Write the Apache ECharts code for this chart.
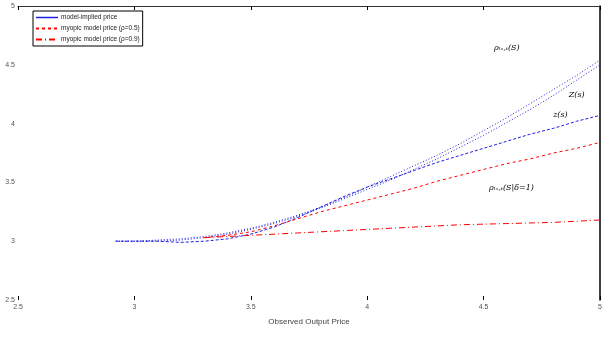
<!DOCTYPE html>
<html>
<head>
<meta charset="utf-8">
<script src="https://cdn.jsdelivr.net/npm/echarts@6/dist/echarts.min.js"></script>
<style>html,body{margin:0;padding:0;background:#fff}#main{width:607px;height:340px}</style>
</head>
<body>
<div id="main"></div>
<script>
// observed output price (x)
var priceX = [2.92, 3.0, 3.1, 3.2, 3.3, 3.4, 3.5, 3.6, 3.7, 3.8, 3.9, 4.0, 4.1, 4.2, 4.3, 4.4, 4.5, 4.6, 4.7, 4.8, 4.9, 5.0];
// blue curves
var upperA = [3.00, 3.00, 3.01, 3.02, 3.04, 3.07, 3.11, 3.16, 3.22, 3.29, 3.37, 3.46, 3.55, 3.64, 3.73, 3.83, 3.94, 4.05, 4.17, 4.29, 4.41, 4.54];
var upperB = [3.00, 3.00, 3.00, 3.01, 3.03, 3.06, 3.10, 3.15, 3.21, 3.28, 3.36, 3.44, 3.52, 3.61, 3.70, 3.80, 3.90, 4.01, 4.12, 4.24, 4.37, 4.50];
var lowerC = [3.00, 3.00, 3.00, 2.99, 3.00, 3.02, 3.06, 3.12, 3.20, 3.29, 3.38, 3.46, 3.53, 3.60, 3.67, 3.73, 3.79, 3.85, 3.91, 3.96, 4.02, 4.07];
// red curves (start at 3.3)
var redX = [3.3, 3.4, 3.5, 3.6, 3.7, 3.8, 3.9, 4.0, 4.1, 4.2, 4.3, 4.4, 4.5, 4.6, 4.7, 4.8, 4.9, 5.0];
var redD = [3.03, 3.05, 3.08, 3.13, 3.19, 3.25, 3.30, 3.35, 3.40, 3.45, 3.51, 3.56, 3.61, 3.66, 3.70, 3.75, 3.79, 3.84];
var redE = [3.03, 3.04, 3.05, 3.06, 3.07, 3.08, 3.09, 3.10, 3.11, 3.12, 3.13, 3.14, 3.145, 3.15, 3.155, 3.16, 3.17, 3.18];
var ticks = [2.5, 3, 3.5, 4, 4.5, 5];
var legendNames = ['model-implied price', 'myopic model price (\u03c1=0.5)', 'myopic model price (\u03c1=0.9)'];

function pairs(xs, ys) { return xs.map(function (x, i) { return [x, ys[i]]; }); }
function note(x, y, text) {
    return { data: [{ coord: [x, y] }], symbolSize: 0, silent: true,
        label: { show: true, position: 'inside', formatter: text, color: '#000', fontSize: 8, fontStyle: 'italic', fontFamily: 'DejaVu Serif' } };
}

var axisBase = { type: 'value', min: 2.5, max: 5, interval: 0.5, splitLine: { show: false } };

option = {
    backgroundColor: '#fff',
    animation: false,
    grid: { left: 18, right: 7, top: 6, bottom: 40, outerBoundsMode: 'none', containLabel: false },
    legend: {
        left: 33, top: 11, orient: 'vertical', itemGap: 4, itemWidth: 22, itemHeight: 8,
        padding: [3, 3, 3, 2], borderColor: '#000', borderWidth: 1, backgroundColor: '#fff',
        itemStyle: { opacity: 0 },
        textStyle: { fontSize: 6.5, color: '#222', padding: [0, 0, 0, -2] },
        data: [
            { name: legendNames[0], lineStyle: { type: 'solid', width: 1.5 } },
            { name: legendNames[1] },
            { name: legendNames[2] }
        ]
    },
    xAxis: [
        Object.assign({}, axisBase, {
            position: 'bottom', name: 'Observed Output Price', nameLocation: 'middle', nameGap: 18,
            nameTextStyle: { fontSize: 8, color: '#444' },
            axisLine: { show: false }, axisTick: { inside: true, length: 4, lineStyle: { color: '#000' } },
            axisLabel: { fontSize: 7, color: '#555', margin: 4, formatter: function (v) { return ticks.indexOf(v) >= 0 ? String(v) : ''; } }
        }),
        Object.assign({}, axisBase, {
            position: 'top', axisLine: { show: true, lineStyle: { color: '#333', width: 1 } },
            axisTick: { inside: true, length: 4, lineStyle: { color: '#000' } }, axisLabel: { show: false }
        })
    ],
    yAxis: [
        Object.assign({}, axisBase, {
            position: 'left', name: 'Output', nameLocation: 'middle', nameGap: 14, nameRotate: 90,
            nameTextStyle: { fontSize: 7, color: '#555' },
            axisLine: { show: false }, axisTick: { show: false },
            axisLabel: { fontSize: 7, color: '#555', margin: 3 }
        }),
        Object.assign({}, axisBase, {
            position: 'right', axisLine: { show: true, lineStyle: { color: '#000', width: 1.5 } },
            axisTick: { show: false }, axisLabel: { show: false }
        })
    ],
    series: [
        {
            name: legendNames[0], type: 'line', symbol: 'none', data: pairs(priceX, upperA),
            lineStyle: { color: '#2020e0', width: 1, type: [1, 2] }, itemStyle: { color: '#0000ff' },
            markPoint: note(4.6, 4.64, '\u03c1\u2097\u209b,\u209c(S)')
        },
        {
            name: 'upper B', type: 'line', symbol: 'none', data: pairs(priceX, upperB),
            lineStyle: { color: '#2020e0', width: 1, type: [1, 2] }, itemStyle: { color: '#0000ff' },
            markPoint: note(4.9, 4.24, 'Z(s)')
        },
        {
            name: 'lower C', type: 'line', symbol: 'none', data: pairs(priceX, lowerC),
            lineStyle: { color: '#2020e0', width: 1, type: [3, 2] }, itemStyle: { color: '#0000ff' },
            markPoint: note(4.83, 4.07, 'z(s)')
        },
        {
            name: legendNames[1], type: 'line', symbol: 'none', data: pairs(redX, redD),
            lineStyle: { color: '#ff0000', width: 1, type: [3, 3] }, itemStyle: { color: '#ff0000' },
            markPoint: note(4.62, 3.45, '\u03c1\u2097\u209b,\u209c(S|\u03b4=1)')
        },
        {
            name: legendNames[2], type: 'line', symbol: 'none', data: pairs(redX, redE),
            lineStyle: { color: '#ff0000', width: 1, type: [6, 3, 1, 3] }, itemStyle: { color: '#ff0000' }
        }
    ]
};

var myChart = echarts.init(document.getElementById('main'));
myChart.setOption(option);
</script>
</body>
</html>
